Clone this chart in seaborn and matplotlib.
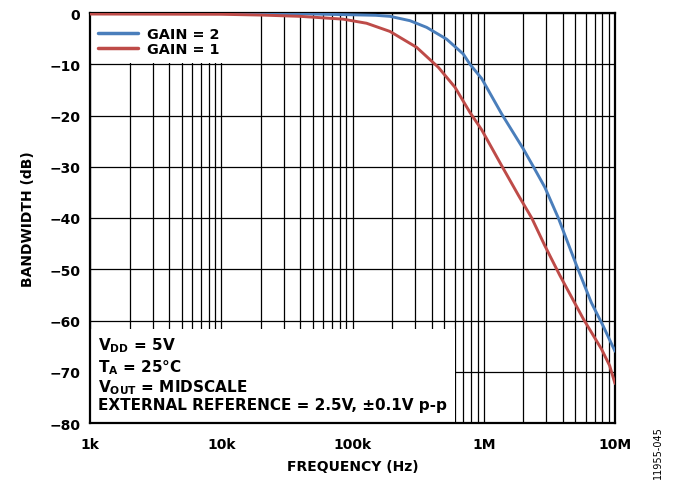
import numpy as np
import pandas as pd
import matplotlib
matplotlib.use("Agg")
import matplotlib.pyplot as plt
import matplotlib.ticker as mticker
from matplotlib.patches import Rectangle
import seaborn as sns

# Values
freq_gain2 = [1e3, 2e3, 5e3, 1e4, 2e4, 5e4, 1e5, 1.5e5, 1.93e5, 2.74e5, 3.67e5,
              5.21e5, 6.98e5, 7.85e5, 9.65e5, 1.37e6, 2.0e6, 2.39e6, 2.92e6,
              3.7e6, 5.1e6, 6.6e6, 8.1e6, 1e7]
db_gain2 = [0, 0, 0, -0.05, -0.1, -0.2, -0.35, -0.45, -0.65, -1.5, -2.8,
            -5.1, -8.0, -10.0, -12.8, -19.7, -26.5, -30.0, -34.0,
            -40.0, -49.3, -56.5, -61.0, -66.0]

freq_gain1 = [1e3, 1e4, 2e4, 3.98e4, 8.47e4, 1.28e5, 1.93e5, 3.08e5, 4.51e5,
              6.04e5, 7.85e5, 9.65e5, 1.37e6, 1.84e6, 2.32e6, 2.92e6, 3.8e6,
              5.74e6, 7.9e6, 9.1e6, 1e7]
db_gain1 = [-0.2, -0.25, -0.4, -0.65, -1.2, -2.0, -3.6, -6.7, -10.6,
            -14.5, -19.4, -22.8, -29.8, -35.6, -40.0, -45.4, -51.2,
            -59.7, -65.6, -68.8, -72.3]

x_ticks = [1e3, 1e4, 1e5, 1e6, 1e7]
x_labels = ["1k", "10k", "100k", "1M", "10M"]
y_ticks = [0, -10, -20, -30, -40, -50, -60, -70, -80]

conditions = ["V$_{DD}$ = 5V", "T$_{A}$ = 25°C", "V$_{OUT}$ = MIDSCALE",
              "EXTERNAL REFERENCE = 2.5V, ±0.1V p-p"]

df = pd.concat([
    pd.DataFrame({"freq": freq_gain2, "db": db_gain2, "gain": "GAIN = 2"}),
    pd.DataFrame({"freq": freq_gain1, "db": db_gain1, "gain": "GAIN = 1"}),
])

sns.set_style("white")
plt.rcParams["font.family"] = ["DejaVu Sans"]
plt.rcParams["font.weight"] = "bold"
plt.rcParams["text.color"] = "black"
plt.rcParams["axes.labelcolor"] = "black"
plt.rcParams["xtick.color"] = "black"
plt.rcParams["ytick.color"] = "black"
plt.rcParams["mathtext.fontset"] = "custom"
plt.rcParams["mathtext.rm"] = "DejaVu Sans:bold"
plt.rcParams["mathtext.it"] = "DejaVu Sans:bold"
plt.rcParams["mathtext.bf"] = "DejaVu Sans:bold"

fig = plt.figure(figsize=(6.74, 4.85), dpi=100)
ax = fig.add_axes([90 / 674, 1 - 424 / 485, 525 / 674, 410 / 485])

sns.lineplot(data=df, x="freq", y="db", hue="gain",
             palette={"GAIN = 2": "#4a7ebb", "GAIN = 1": "#be4b48"},
             hue_order=["GAIN = 2", "GAIN = 1"], linewidth=2.1, ax=ax,
             zorder=3)

ax.set_xscale("log")
ax.set_xlim(1e3, 1e7)
ax.set_ylim(-80, 0)
ax.set_xticks(x_ticks)
ax.set_xticklabels(x_labels)
ax.xaxis.set_minor_locator(mticker.LogLocator(base=10, subs=np.arange(2, 10)))
ax.xaxis.set_minor_formatter(mticker.NullFormatter())
ax.set_yticks(y_ticks)
ax.tick_params(axis="both", which="both", length=0, labelsize=10,
               labelcolor="black")
ax.tick_params(axis="x", pad=10)
ax.tick_params(axis="y", pad=7)
for lbl in ax.get_xticklabels() + ax.get_yticklabels():
    lbl.set_fontweight("bold")

ax.set_axisbelow(True)
ax.grid(which="both", color="black", linewidth=0.9)
for sp in ax.spines.values():
    sp.set_color("black")
    sp.set_linewidth(1.6)

ax.set_xlabel("FREQUENCY (Hz)", fontsize=10, fontweight="bold", labelpad=6)
ax.set_ylabel("BANDWIDTH (dB)", fontsize=10, fontweight="bold", labelpad=10)

# white areas behind legend and conditions text
ax.add_patch(Rectangle((0, 0), 0.695, 0.229, transform=ax.transAxes,
                       facecolor="white", edgecolor="none", zorder=1.5))
ax.add_patch(Rectangle((0, 0.878), 0.314, 0.122, transform=ax.transAxes,
                       facecolor="white", edgecolor="none", zorder=1.5))

for line, yb in zip(conditions, [0.180, 0.126, 0.078, 0.034]):
    ax.text(0.015, yb, line, transform=ax.transAxes, fontsize=11,
            fontweight="bold", va="baseline", ha="left", zorder=4,
            color="black")

leg = ax.legend(loc="upper left", bbox_to_anchor=(0.015, 0.966),
                frameon=False, fontsize=10.4, handlelength=2.8,
                borderaxespad=0.0, borderpad=0.0, labelspacing=0.1,
                handletextpad=0.6)
for t in leg.get_texts():
    t.set_fontweight("bold")
    t.set_color("black")
for h in leg.get_lines():
    h.set_linewidth(2.5)

fig.text(658 / 674, 1 - 453 / 485, "11955-045", rotation=90, fontsize=7,
         fontweight="normal", ha="center", va="center", color="black")

fig.savefig("out.png", dpi=100)
